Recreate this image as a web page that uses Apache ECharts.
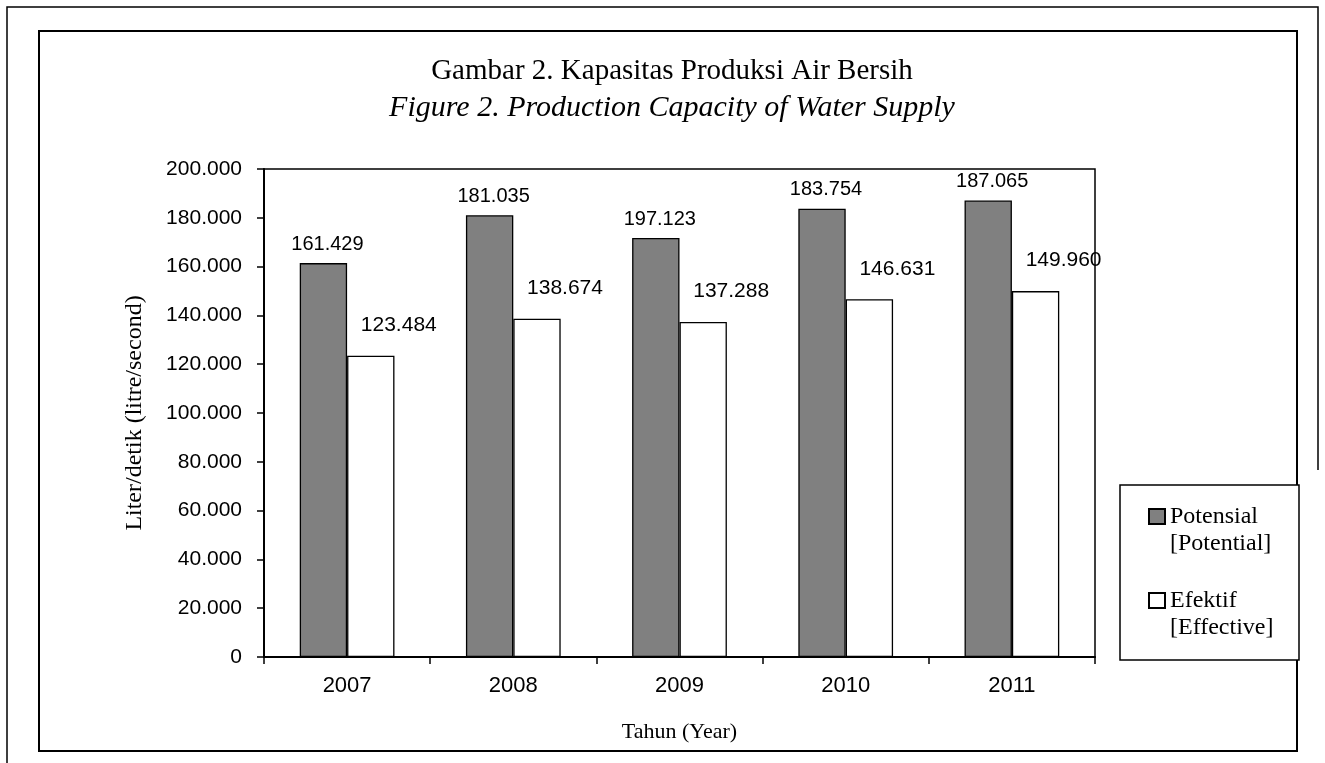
<!DOCTYPE html>
<html>
<head>
<meta charset="utf-8">
<script src="https://cdn.jsdelivr.net/npm/echarts@6/dist/echarts.min.js"></script>
<style>
html,body{margin:0;padding:0;background:#fff;}
#c{width:1325px;height:763px;}
</style>
</head>
<body>
<div id="c"></div>
<script>
// ---- data ----
const categories = ['2007', '2008', '2009', '2010', '2011'];
const potensialValues = [161429, 181035, 171700, 183754, 187065];
const efektifValues = [123484, 138674, 137288, 146631, 149960];
const potensialLabels = ['161.429', '181.035', '197.123', '183.754', '187.065'];
const efektifLabels = ['123.484', '138.674', '137.288', '146.631', '149.960'];
const seriesNames = ['Potensial\n[Potential]', 'Efektif\n[Effective]'];
const titleLine1 = 'Gambar 2. Kapasitas Produksi Air Bersih';
const titleLine2 = 'Figure 2. Production Capacity of Water Supply';
const yAxisTitle = 'Liter/detik (litre/second)';
const xAxisTitle = 'Tahun (Year)';

const SERIF = '"Liberation Serif", "Times New Roman", serif';
const SANS = '"Liberation Sans", Arial, sans-serif';

function fmt(v) {
  return String(Math.round(v)).replace(/\B(?=(\d{3})+(?!\d))/g, '.');
}

const chart = echarts.init(document.getElementById('c'), null, {renderer: 'canvas'});
chart.setOption({
  backgroundColor: '#fff',
  animation: false,
  title: [
    {text: titleLine1, left: 667, top: 52, textAlign: 'center',
     textStyle: {fontFamily: SERIF, fontSize: 29, fontWeight: 'normal', color: '#000'}},
    {text: titleLine2, left: 667, top: 88, textAlign: 'center',
     textStyle: {fontFamily: SERIF, fontSize: 30, fontStyle: 'italic', fontWeight: 'normal', color: '#000'}}
  ],
  grid: {left: 264, right: 230, top: 169, bottom: 106, show: true,
         borderColor: '#000', borderWidth: 1.5, backgroundColor: 'transparent'},
  legend: {
    orient: 'vertical', left: 1148, top: 476, padding: 0, itemGap: 3,
    itemWidth: 16, itemHeight: 15, selectedMode: false, icon: 'rect',
    textStyle: {fontFamily: SERIF, fontSize: 24, color: '#000', lineHeight: 27},
    formatter: name => '\n' + name,
    data: seriesNames
  },
  xAxis: {
    type: 'category', data: categories,
    name: xAxisTitle, nameLocation: 'middle', nameGap: 64,
    nameTextStyle: {fontFamily: SERIF, fontSize: 22, color: '#000'},
    axisLine: {lineStyle: {color: '#000', width: 2}},
    axisTick: {show: true, length: 7, lineStyle: {color: '#000', width: 1.5}},
    axisLabel: {fontFamily: SANS, fontSize: 22, color: '#000', margin: 18}
  },
  yAxis: {
    type: 'value', min: 0, max: 200000, interval: 20000,
    name: yAxisTitle, nameLocation: 'middle', nameGap: 117,
    nameTextStyle: {fontFamily: SERIF, fontSize: 24, color: '#000'},
    axisLine: {show: true, lineStyle: {color: '#000', width: 2}},
    axisTick: {show: true, length: 7, lineStyle: {color: '#000', width: 1.5}},
    splitLine: {show: false},
    axisLabel: {fontFamily: SANS, fontSize: 21, color: '#000', margin: 22, formatter: fmt}
  },
  series: [
    {
      name: seriesNames[0], type: 'bar', data: potensialValues,
      barGap: '0%', barCategoryGap: '43%',
      itemStyle: {color: '#808080', borderColor: '#000', borderWidth: 1.3},
      label: {show: true, position: 'top', distance: 9, offset: [4, 0],
              fontFamily: SANS, fontSize: 20, color: '#000',
              formatter: p => potensialLabels[p.dataIndex]}
    },
    {
      name: seriesNames[1], type: 'bar', data: efektifValues,
      barGap: '0%', barCategoryGap: '43%',
      itemStyle: {color: '#ffffff', borderColor: '#000', borderWidth: 1.3},
      label: {show: true, position: 'top', distance: 9, offset: [28, -11],
              fontFamily: SANS, fontSize: 21, color: '#000',
              formatter: p => efektifLabels[p.dataIndex]}
    }
  ],
  graphic: [
    // outer page lines
    {type: 'polyline', silent: true, shape: {points: [[7, 763], [7, 7], [1318, 7], [1318, 470]]},
     style: {stroke: '#000', lineWidth: 1.5, fill: null}},
    // inner frame
    {type: 'rect', silent: true, z: -1, shape: {x: 39, y: 31, width: 1258, height: 720},
     style: {stroke: '#000', lineWidth: 2, fill: 'transparent'}},
    // legend box
    {type: 'rect', silent: true, z: -1, shape: {x: 1120, y: 485, width: 179, height: 175},
     style: {stroke: '#000', lineWidth: 1.5, fill: '#fff'}}
  ]
});
</script>
</body>
</html>
